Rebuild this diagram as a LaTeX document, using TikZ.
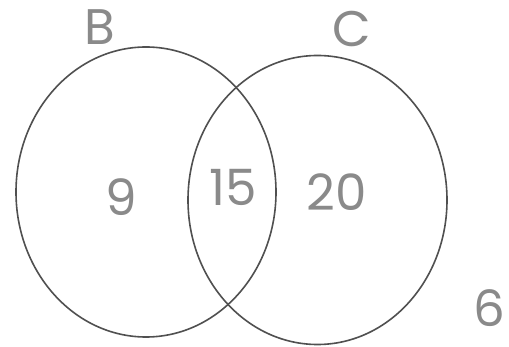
\documentclass[tikz,border=0pt]{standalone}
\usepackage{fontspec}
\setmainfont{Poppins}
\usetikzlibrary{shapes.geometric}
\definecolor{ink}{HTML}{505050}
\definecolor{pencil}{HTML}{8A8A8A}
\begin{document}
\begin{tikzpicture}[x=1pt,y=-1pt,
  setring/.style={draw=ink,line width=1.6pt,ellipse,inner sep=0pt},
  hand/.style={text=pencil,font=\fontsize{50}{50}\selectfont,inner sep=0pt}]
\useasboundingbox[fill=white] (0,0) rectangle (509,347);
\node[setring,minimum width=260pt,minimum height=290pt] (B) at (146,192) {};
\node[setring,minimum width=259pt,minimum height=289pt] (C) at (317.5,200) {};
\node[hand] (lB) at (100,27) {B};
\node[hand] (lC) at (352,29) {C};
\node[hand] (n9) at (121,197) {9};
\node[hand] (n15) at (233,187) {15};
\node[hand] (n20) at (337,192) {20};
\node[hand] (n6) at (489,308) {6};
\end{tikzpicture}
\end{document}
